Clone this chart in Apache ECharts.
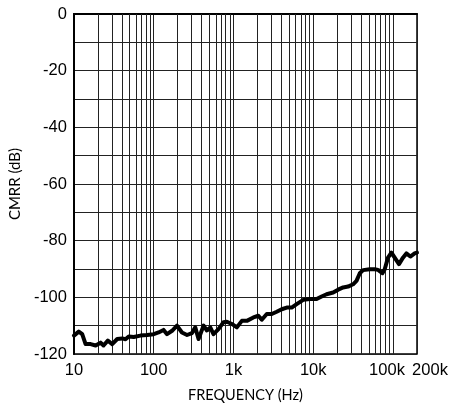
<!DOCTYPE html>
<html>
<head>
<meta charset="utf-8">
<script src="https://cdn.jsdelivr.net/npm/echarts@6/dist/echarts.min.js"></script>
<style>html,body{margin:0;padding:0;background:#fff}#c{width:453px;height:408px}</style>
</head>
<body>
<div id="c"></div>
<script>
var freqHz = [10,11.5,12.7,14,16.2,18.7,21.6,23.5,26.6,30.2,34.9,40.3,44.3,48.7,56.2,68.2,82.7,100,115,133,147,170,196,226,262,302,332,365,422,465,512,562,649,750,827,955,1103,1274,1471,1778,2053,2265,2616,3020,3487,4027,4650,5370,6200,7500,9090,11030,12740,14710,17780,20530,23710,27380,31620,34870,38370,42170,51170,59040,64940,73700,78750,86600,95500,105000,118900,133400,147100,165000,186700,200000];
var cmrrDb = [-113.5,-112.1,-113,-116.5,-116.5,-117,-116,-117,-115.3,-116.5,-114.7,-114.5,-114.8,-113.8,-114,-113.5,-113.3,-113,-112.4,-111.5,-113,-111.8,-110,-112.4,-113.3,-112.6,-110.6,-114.7,-110,-111.7,-110.6,-113,-111.2,-108.8,-108.6,-109.4,-110.6,-108.3,-108.3,-107.1,-106.5,-107.9,-105.9,-105.9,-105.1,-104.2,-103.6,-103.6,-102.4,-100.9,-100.6,-100.6,-99.7,-98.9,-98.3,-97.3,-96.5,-96.2,-95.4,-94.2,-91.5,-90.4,-90.1,-90.1,-90.3,-91.5,-90.1,-86,-84.2,-86,-88.3,-86,-84.5,-85.6,-84.5,-84.2];
var minorGridHz = [20,30,40,50,60,70,80,90,200,300,400,500,600,700,800,900,2000,3000,4000,5000,6000,7000,8000,9000,20000,30000,40000,50000,60000,70000,80000,90000];
var xRange = [10, 200000];
var yRange = [-120, 0];

var chart = echarts.init(document.getElementById('c'), null, {renderer:'canvas'});
var pairs = freqHz.map(function(f,i){return [f, cmrrDb[i]];});
chart.setOption({
  animation:false,
  grid:{left:73,top:14,right:36,bottom:53,show:true,borderColor:'#000',borderWidth:1.5,backgroundColor:'transparent'},
  xAxis:{
    type:'log', logBase:10, min:xRange[0], max:xRange[1],
    name:'FREQUENCY (Hz)', nameLocation:'middle', nameGap:34,
    nameTextStyle:{fontFamily:'Lato', fontSize:14.5, color:'#000'},
    axisLine:{show:true,lineStyle:{color:'#000',width:2}},
    axisTick:{show:false},
    splitLine:{show:true,lineStyle:{color:'#222',width:1}},
    minorTick:{show:false}, minorSplitLine:{show:false},
    axisLabel:{
      show:true, showMinLabel:true, showMaxLabel:true,
      fontFamily:'Liberation Sans', fontSize:16.5, color:'#000', margin:8,
      formatter:function(v){
        var r = Math.round(v);
        if (r === 100000) return '{l|100k}';
        if (r === 200000) return '{r|200k}';
        if (r >= 1000) return (r/1000)+'k';
        return String(r);
      },
      rich:{
        l:{fontFamily:'Liberation Sans', fontSize:16.5, color:'#000', padding:[0,12,0,0]},
        r:{fontFamily:'Liberation Sans', fontSize:16.5, color:'#000', padding:[0,0,0,26]}
      }
    }
  },
  yAxis:{
    type:'value', min:yRange[0], max:yRange[1], interval:10,
    name:'CMRR (dB)', nameLocation:'middle', nameGap:42,
    nameTextStyle:{fontFamily:'Lato', fontSize:15, color:'#000'},
    axisLine:{show:true,lineStyle:{color:'#000',width:2}},
    axisTick:{show:false},
    splitLine:{show:true,lineStyle:{color:'#222',width:1}},
    axisLabel:{
      fontFamily:'Liberation Sans', fontSize:16.5, color:'#000', margin:7,
      formatter:function(v){ return (Math.round(v) % 20 === 0) ? String(Math.round(v)) : ''; }
    }
  },
  series:[
    {
      type:'line', data:[], z:1, silent:true,
      markLine:{
        silent:true, symbol:['none','none'], label:{show:false},
        lineStyle:{color:'#222',width:1,type:'solid'},
        emphasis:{disabled:true},
        data: minorGridHz.map(function(f){return {xAxis:f};})
      }
    },
    {
      type:'line', data:pairs, z:5, showSymbol:false, symbol:'none', smooth:false,
      lineStyle:{color:'#000', width:4, join:'round', cap:'round'}
    }
  ]
});
</script>
</body>
</html>
